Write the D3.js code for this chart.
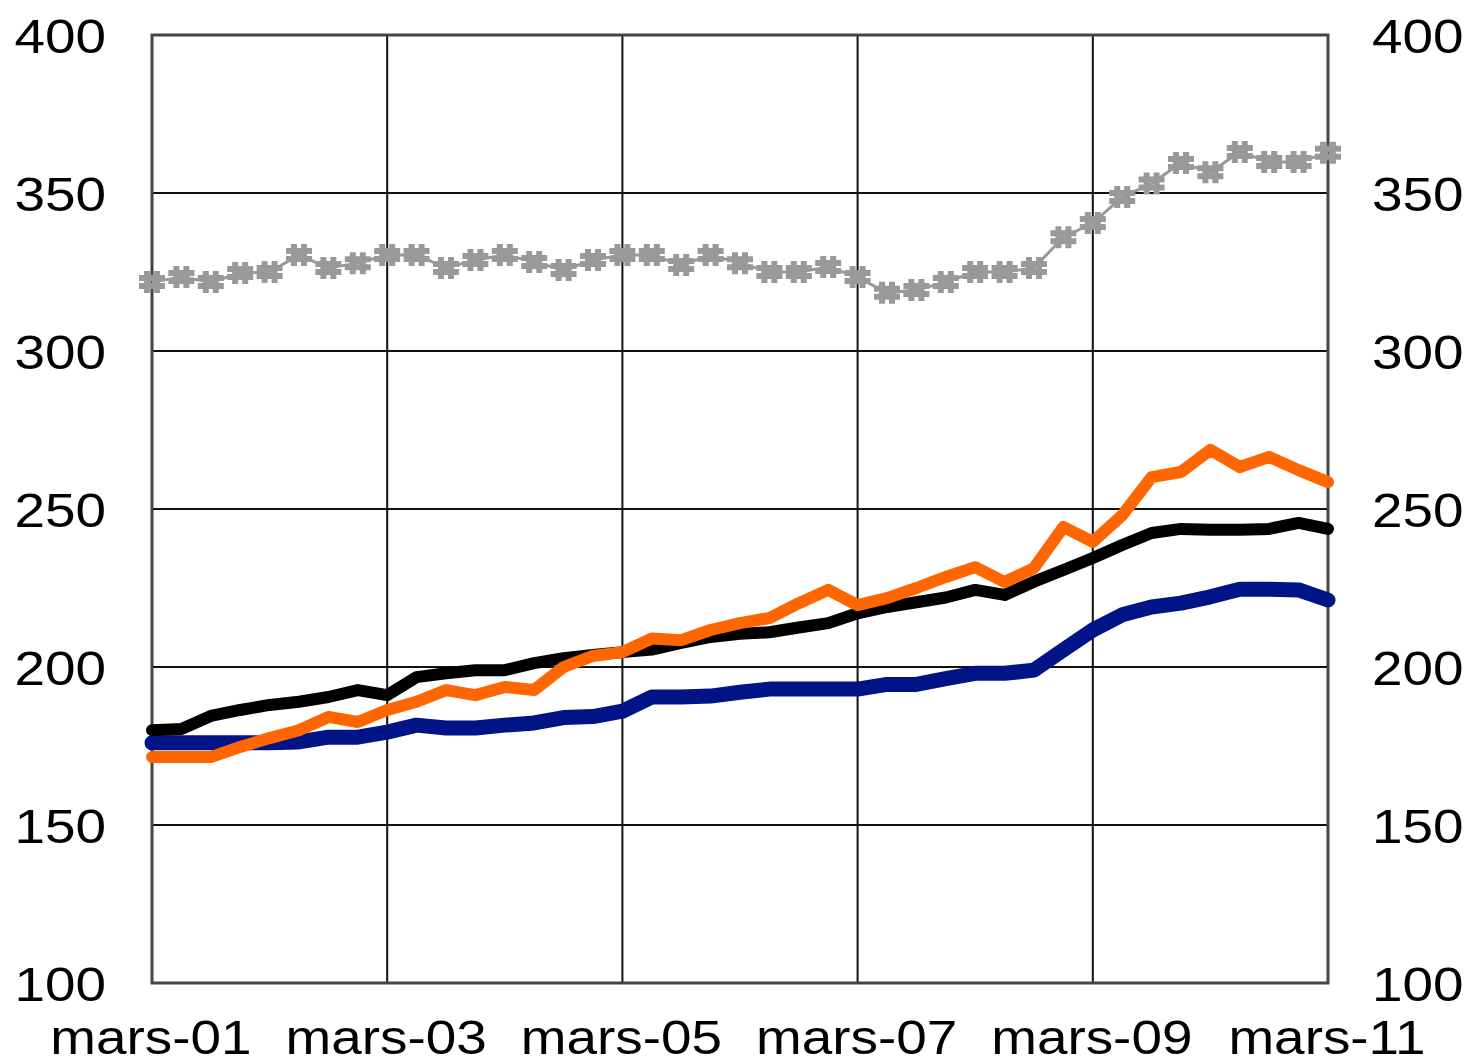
<!DOCTYPE html>
<html>
<head>
<meta charset="utf-8">
<script src="https://cdn.jsdelivr.net/npm/d3@7"></script>
<style>
  html, body { margin: 0; padding: 0; background: #fff; }
  text { font-family: "Liberation Sans", Arial, sans-serif; fill: #000; }
</style>
</head>
<body>
<div id="chart"></div>
<script>
// quarterly observations, mars-01 .. mars-11 (41 points)
const quarterIdx = d3.range(41);

const grey = [321.8, 323.4, 321.8, 324.7, 325, 330.4, 326.3, 327.8, 330.4, 330.4,
  326.3, 328.8, 330.4, 328.2, 325.6, 328.8, 330.4, 330.4, 327.2, 330.4,
  327.8, 325, 325, 326.6, 323.4, 318.4, 319.3, 321.8, 325, 325,
  326.3, 336, 340.5, 348.7, 353, 359.5, 356.6, 363, 359.8, 359.8, 362.7];

const black = [180, 180.4, 184.5, 186.4, 188, 189, 190.5, 192.7, 191.1, 196.8,
  198, 199, 199, 201.2, 202.8, 203.8, 204.7, 205.5, 207.6, 209.5,
  210.5, 211, 212.5, 213.9, 217, 219, 220.5, 222, 224.4, 222.8,
  227, 230.7, 234.5, 238.6, 242.4, 243.7, 243.4, 243.4, 243.7, 245.6, 243.7];

const orange = [171.5, 171.5, 171.5, 174.7, 177.5, 180, 184.2, 182.6, 186.4, 189,
  192.7, 191.1, 193.7, 192.7, 200, 203.5, 204.7, 209, 208.5, 211.7,
  213.9, 215.5, 220.2, 224.4, 219.6, 221.8, 225, 228.5, 231.6, 226.9,
  231.3, 244.3, 239.6, 248, 260.1, 261.7, 268.7, 263.3, 266.5, 262.3, 258.5];

const navy = [176, 176, 176, 176, 176, 176.3, 177.8, 177.8, 179.4, 181.6,
  180.7, 180.7, 181.6, 182.3, 184, 184.3, 186, 190.5, 190.5, 190.8,
  192, 193, 193, 193, 193, 194.5, 194.5, 196.3, 198, 198,
  199, 205.4, 211.7, 216.5, 219, 220.2, 222.2, 224.6, 224.6, 224.4, 221.2];

const yTicks = [100, 150, 200, 250, 300, 350, 400];
const xTickIdx = [0, 8, 16, 24, 32, 40];
const xTickLabels = ["mars-01", "mars-03", "mars-05", "mars-07", "mars-09", "mars-11"];

const W = 1469, H = 1064;
const plot = { left: 152, right: 1328, top: 35, bottom: 983 };

const x = d3.scaleLinear().domain([0, 40]).range([plot.left, plot.right]);
const y = d3.scaleLinear().domain([100, 400]).range([plot.bottom, plot.top]);

const svg = d3.select("#chart").append("svg")
  .attr("width", W).attr("height", H);

// grid
const grid = svg.append("g").attr("stroke", "#111").attr("stroke-width", 2);
grid.selectAll("line.h").data(yTicks).join("line")
  .attr("x1", plot.left).attr("x2", plot.right)
  .attr("y1", d => y(d)).attr("y2", d => y(d));
grid.selectAll("line.v").data(xTickIdx).join("line")
  .attr("y1", plot.top).attr("y2", plot.bottom)
  .attr("x1", d => x(d)).attr("x2", d => x(d));

// frame
svg.append("rect")
  .attr("x", plot.left).attr("y", plot.top)
  .attr("width", plot.right - plot.left).attr("height", plot.bottom - plot.top)
  .attr("fill", "none").attr("stroke", "#444").attr("stroke-width", 3);

// y labels, both sides
const stretch = 1.12;
const fs = 49;
yTicks.forEach(v => {
  svg.append("text")
    .attr("transform", `translate(106,${y(v) + 18}) scale(${stretch},1)`)
    .attr("text-anchor", "end")
    .attr("font-size", fs)
    .text(v);
  svg.append("text")
    .attr("transform", `translate(1372,${y(v) + 18}) scale(${stretch},1)`)
    .attr("text-anchor", "start")
    .attr("font-size", fs)
    .text(v);
});

// x labels
xTickIdx.forEach((d, i) => {
  svg.append("text")
    .attr("transform", `translate(${x(d) - 1},1054) scale(${stretch},1)`)
    .attr("text-anchor", "middle")
    .attr("font-size", fs)
    .text(xTickLabels[i]);
});

const line = d3.line().x((d, i) => x(quarterIdx[i])).y(d => y(d));

svg.append("path").datum(navy)
  .attr("d", line).attr("fill", "none")
  .attr("stroke", "#001487").attr("stroke-width", 15)
  .attr("stroke-linejoin", "round").attr("stroke-linecap", "round");

svg.append("path").datum(black)
  .attr("d", line).attr("fill", "none")
  .attr("stroke", "#000").attr("stroke-width", 12)
  .attr("stroke-linejoin", "round").attr("stroke-linecap", "round");

svg.append("path").datum(orange)
  .attr("d", line).attr("fill", "none")
  .attr("stroke", "#ff6600").attr("stroke-width", 12)
  .attr("stroke-linejoin", "round").attr("stroke-linecap", "round");

// grey series: thin line + hash-like asterisk markers
svg.append("path").datum(grey)
  .attr("d", line).attr("fill", "none")
  .attr("stroke", "#999").attr("stroke-width", 3);

const marker = "M-5,-11V11M5,-11V11M-13,-4H13M-13,4H13";
svg.append("g").selectAll("path").data(grey).join("path")
  .attr("transform", (d, i) => `translate(${x(quarterIdx[i])},${y(d)})`)
  .attr("d", marker)
  .attr("fill", "none")
  .attr("stroke", "#999")
  .attr("stroke-width", 6);
</script>
</body>
</html>
